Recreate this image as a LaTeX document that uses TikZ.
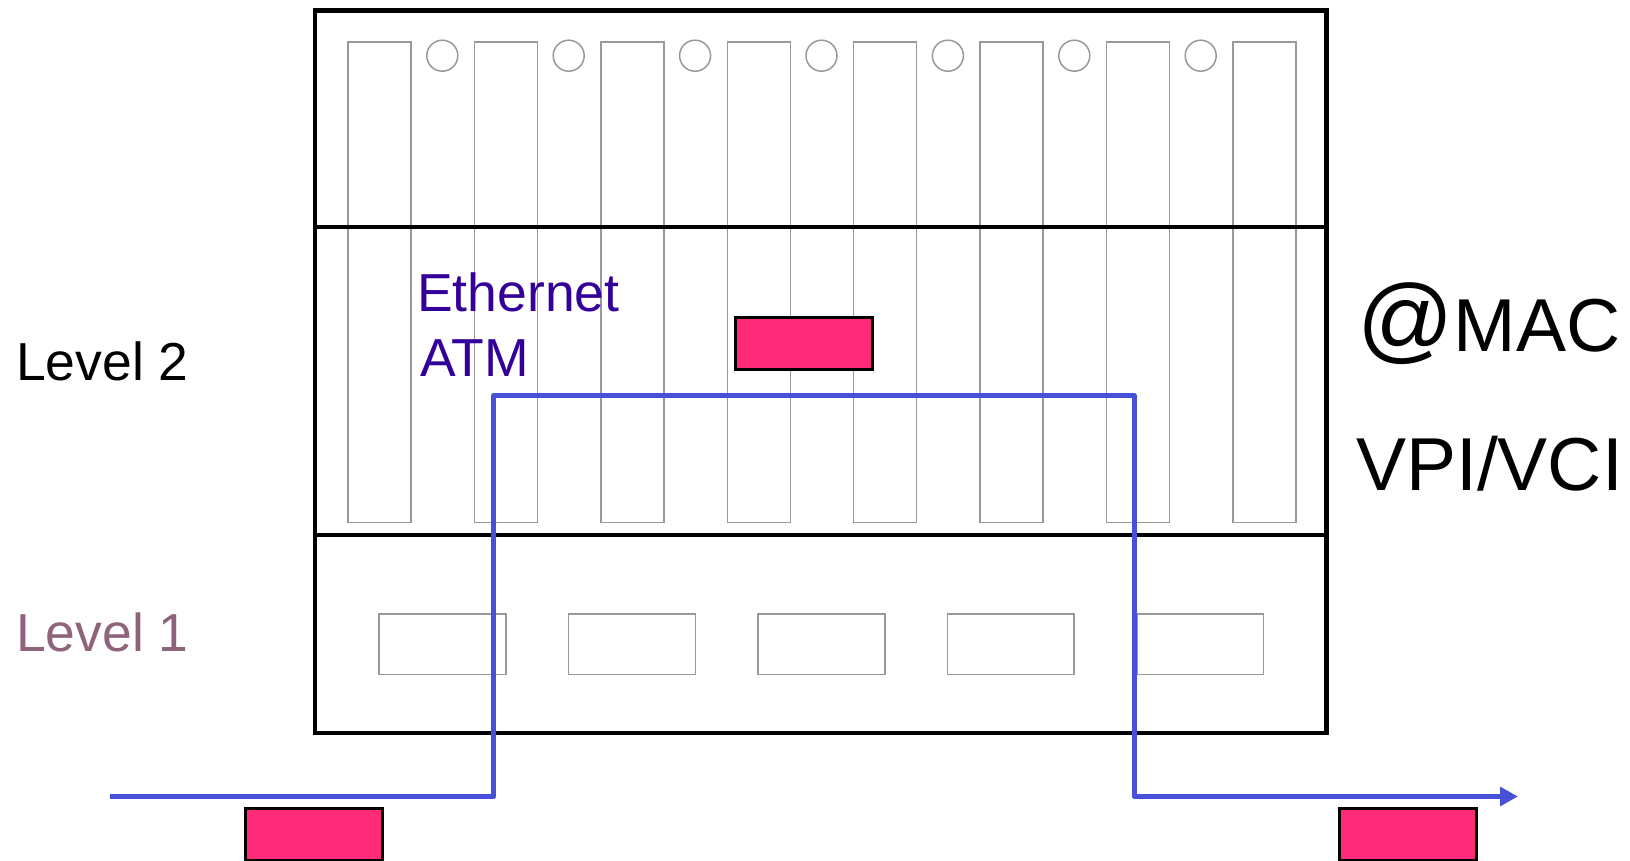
\documentclass[tikz,border=0pt]{standalone}
\usepackage{fontspec}
\setmainfont{Liberation Sans}
\usetikzlibrary{arrows.meta}
\definecolor{pinkbox}{HTML}{FF2A78}
\definecolor{pathblue}{HTML}{4651D8}
\definecolor{lvlone}{HTML}{8F6379}
\definecolor{ethcol}{HTML}{330099}
\definecolor{slotgrey}{HTML}{999999}
\tikzset{
  frame/.style={draw=black, line width=4.3pt},
  slotbox/.style={draw=slotgrey, line width=1.5pt, rectangle, inner sep=0pt, minimum width=63pt, minimum height=480pt, anchor=north west},
  portbox/.style={draw=slotgrey, line width=1.5pt, rectangle, inner sep=0pt, minimum width=126.8pt, minimum height=60.3pt, anchor=north west},
  ledcirc/.style={draw=slotgrey, line width=1.5pt, circle, inner sep=0pt, minimum size=31pt},
  cell/.style={draw=black, fill=pinkbox, line width=3pt, rectangle, inner sep=0pt, minimum width=137pt, minimum height=52pt, anchor=north west},
  flow/.style={draw=pathblue, line width=5pt},
  lbl/.style={inner sep=0pt, anchor=base west},
}
\begin{document}
\begin{tikzpicture}[x=1pt,y=-1pt]
\useasboundingbox (0,0) rectangle (1630,861);
% slots
\foreach \i in {0,...,7} {
  \node[slotbox] (slot\i) at ({347.3+\i*126.4},41.5) {};
}
\foreach \i in {0,...,6} {
  \node[ledcirc] (led\i) at ({442.3+\i*126.4},55.7) {};
}
\foreach \i in {0,...,4} {
  \node[portbox] (port\i) at ({378.4+\i*189.4},613.3) {};
}
% frame
\draw[frame] (315,10.4) rectangle (1326.5,733.3);
\draw[frame] (315,227) -- (1326.5,227);
\draw[frame] (315,535) -- (1326.5,535);
% cells
\node[cell] (cellmid) at (733.9,316) {};
\node[cell] (cellin) at (243.5,806.7) {};
\node[cell] (cellout) at (1338,806.7) {};
% path
\coordinate (pin) at (109.5,796.5);
\coordinate (c1) at (493.8,796.5);
\coordinate (c2) at (493.8,395.5);
\coordinate (c3) at (1134,395.5);
\coordinate (c4) at (1134,796.5);
\coordinate (pout) at (1518,796.5);
\draw[flow, line join=round] (pin) -- (c1) -- (c2) -- (c3) -- (c4) -- ([xshift=-10pt]pout);
\draw[flow, -{Triangle[length=18pt,width=18.5pt]}] (c4) -- (pout);
% labels
\node[lbl, font=\fontsize{53.5}{60}\selectfont] (l2) at (16,380) {Level 2};
\node[lbl, text=lvlone, font=\fontsize{53.5}{60}\selectfont] (l1) at (16,651.7) {Level 1};
\node[lbl, text=ethcol, font=\fontsize{53.5}{60}\selectfont] (eth) at (417,311.7) {Ethernet};
\node[lbl, text=ethcol, font=\fontsize{53.5}{60}\selectfont] (atm) at (420,376) {ATM};
\node[lbl] (mac) at (1357,351.7) {{\fontsize{95}{96}\selectfont @}{\fontsize{75}{80}\selectfont MAC}};
\node[lbl, font=\fontsize{75}{80}\selectfont] (vpi) at (1356,490.7) {VPI/VCI};
\end{tikzpicture}
\end{document}
